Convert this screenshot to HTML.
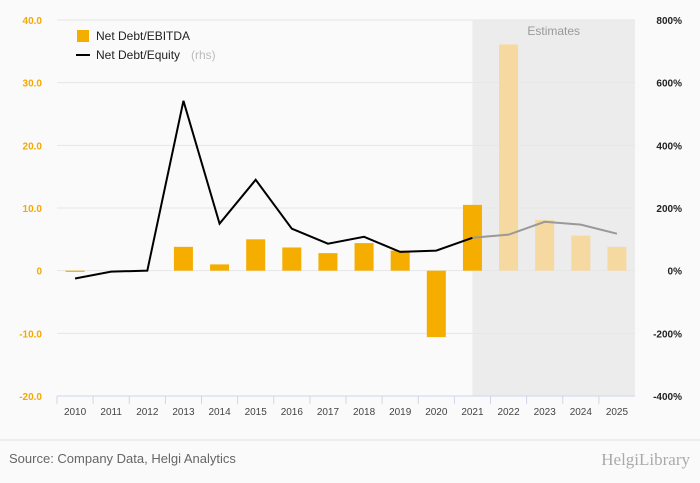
<!DOCTYPE html>
<html><head><meta charset="utf-8">
<style>
body{margin:0;background:#fafafa;font-family:"Liberation Sans",sans-serif;}
#wrap{position:relative;width:700px;height:483px;background:#fafafa;overflow:hidden;}
svg{display:block;}
</style></head>
<body>
<div id="wrap">
<svg id="chart" width="700" height="483"></svg>
</div>
<script>
const categories=["2010","2011","2012","2013","2014","2015","2016","2017","2018","2019","2020","2021","2022","2023","2024","2025"];
const debtEbitda=[-0.2,0,0,3.8,1.0,5.0,3.7,2.8,4.4,3.2,-10.6,10.5,36.1,8.1,5.6,3.8];
const debtEquity=[-25,-3,0,542,150,290,134,86,108,60,64,105,115,156,147,118];
const leftTicks=[40,30,20,10,0,-10,-20];
const leftLabels=["40.0","30.0","20.0","10.0","0","-10.0","-20.0"];
const rightTicks=[800,600,400,200,0,-200,-400];
const rightLabels=["800%","600%","400%","200%","0%","-200%","-400%"];
const firstEstimate=12;

const NS="http://www.w3.org/2000/svg";
const svg=document.getElementById('chart');
const X0=57,X1=635,Y0=20,Y1=396;
const band=(X1-X0)/categories.length;
const xc=i=>X0+band*(i+0.5);
const yL=v=>Y0+(40-v)/60*(Y1-Y0);
const yR=v=>Y0+(800-v)/1200*(Y1-Y0);
function mk(t,a,txt){const e=document.createElementNS(NS,t);for(const k in a)e.setAttribute(k,a[k]);if(txt!==undefined)e.textContent=txt;svg.appendChild(e);return e;}

const shadeX=xc(firstEstimate-1);
let e=mk('rect',{x:shadeX,y:Y0,width:X1-shadeX,height:Y1-Y0,fill:'#ececec'});


e=mk('text',{x:(shadeX+X1)/2,y:35,'text-anchor':'middle','font-size':12,fill:'#999'},'Estimates');



leftTicks.forEach((t,i)=>{
 const y=yL(t);
 e=mk('line',{x1:X0,x2:X1,y1:y,y2:y,stroke:'#e6e6e6','stroke-width':1});
 
 
 e=mk('text',{x:42,y:y+4,'text-anchor':'end','font-size':10,'font-weight':'bold',fill:'#f5a800'},leftLabels[i]);
 
 
});
rightTicks.forEach((t,i)=>{
 e=mk('text',{x:682,y:yR(t)+4,'text-anchor':'end','font-size':10,'font-weight':'bold',fill:'#222'},rightLabels[i]);
 
 
});

debtEbitda.forEach((v,i)=>{
 const y=Math.min(yL(v),yL(0)),h=Math.max(Math.abs(yL(v)-yL(0)),v!==0?1:0);
 if(h===0)return;
 e=mk('rect',{x:xc(i)-9.5,y:y,width:19,height:h,fill:i>=firstEstimate?'#f6d9a0':'#f5ad00'});
 
 
});

e=mk('line',{x1:X0,x2:X1,y1:Y1,y2:Y1,stroke:'#ccd6eb','stroke-width':1});


categories.forEach((c,i)=>{
 e=mk('line',{x1:X0+band*i,x2:X0+band*i,y1:Y1,y2:Y1+8,stroke:'#ccd6eb'});
 
 
 e=mk('text',{x:xc(i),y:415,'text-anchor':'middle','font-size':10,fill:'#444'},c);
 
 
});

const act=[],est=[];
debtEquity.forEach((v,i)=>{const p=xc(i)+','+yR(v);if(i<=firstEstimate-1)act.push(p);if(i>=firstEstimate-1)est.push(p);});
e=mk('polyline',{points:act.join(' '),fill:'none',stroke:'#000','stroke-width':2});


e=mk('polyline',{points:est.join(' '),fill:'none',stroke:'#999','stroke-width':2});



e=mk('rect',{x:77,y:30,width:12,height:12,fill:'#f5ad00'});


e=mk('text',{x:96,y:40,'font-size':12,fill:'#222'},'Net Debt/EBITDA');


e=mk('line',{x1:76,x2:90,y1:55,y2:55,stroke:'#000','stroke-width':2});


e=mk('text',{x:96,y:59,'font-size':12,fill:'#222'},'Net Debt/Equity ');


e=mk('text',{x:191,y:59,'font-size':12,fill:'#bbb'},'(rhs)');



e=mk('line',{x1:0,x2:700,y1:440,y2:440,stroke:'#e0e0e0'});


e=mk('text',{x:9,y:463,'font-size':13,fill:'#666'},'Source: Company Data, Helgi Analytics');


e=mk('text',{x:690,y:465,'text-anchor':'end','font-size':17,fill:'#aaa','font-family':'Liberation Serif, serif'},'HelgiLibrary');


</script>
</body></html>
